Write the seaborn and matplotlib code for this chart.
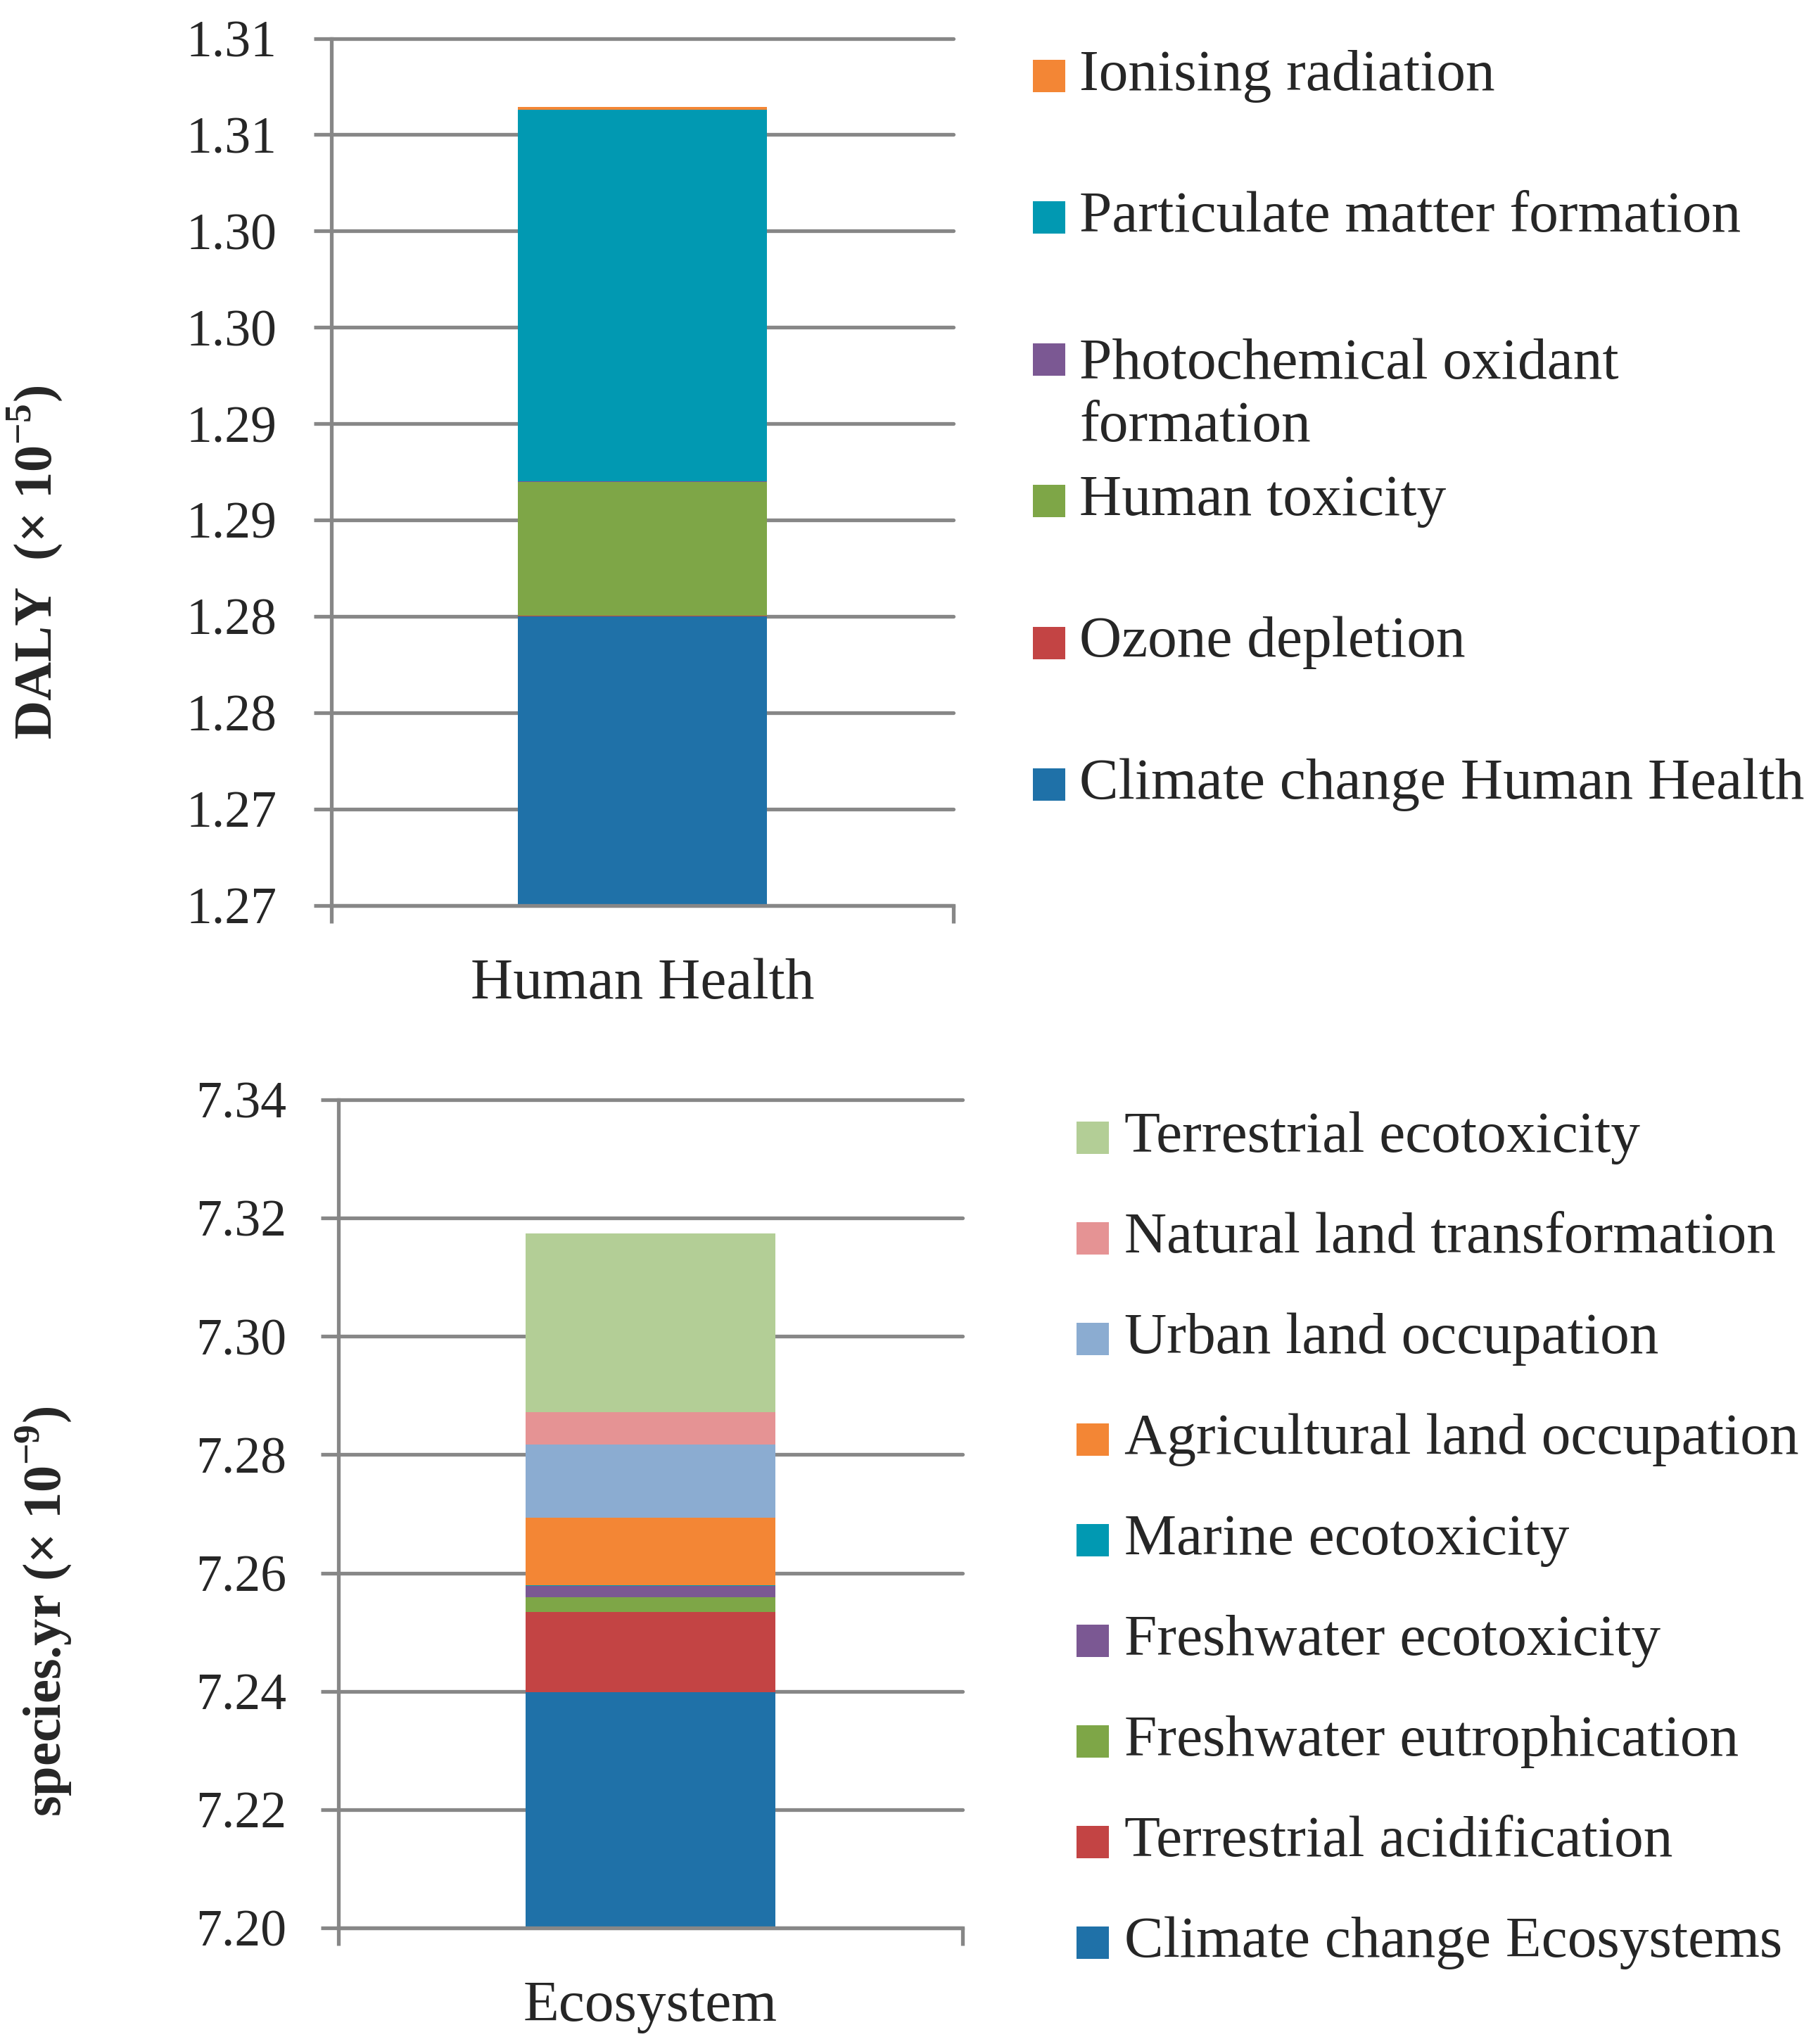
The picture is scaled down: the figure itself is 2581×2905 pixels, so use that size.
import numpy as np
import matplotlib
matplotlib.use("Agg")
import matplotlib.pyplot as plt
from matplotlib.patches import Rectangle
import seaborn as sns

# ------------------------------------------------------------------
# Data
# ------------------------------------------------------------------
# Human Health, DALY (x 1e-5), stacked from bottom to top
hh_category = "Human Health"
hh_series = ["Climate change Human Health", "Ozone depletion", "Human toxicity",
             "Photochemical oxidant formation", "Particulate matter formation",
             "Ionising radiation"]
hh_values = [1.2800, 0.00003, 0.00695, 0.00002, 0.0193, 0.00013]
hh_colors = ["#1F71A8", "#C34444", "#7EA647", "#7B5893", "#0199B2", "#F38635"]
hh_ticks = [1.265, 1.270, 1.275, 1.280, 1.285, 1.290, 1.295, 1.300, 1.305, 1.310]
hh_ticklabels = ["1.27", "1.27", "1.28", "1.28", "1.29", "1.29",
                 "1.30", "1.30", "1.31", "1.31"]

# Ecosystem, species.yr (x 1e-9), stacked from bottom to top
eco_category = "Ecosystem"
eco_series = ["Climate change Ecosystems", "Terrestrial acidification",
              "Freshwater eutrophication", "Freshwater ecotoxicity",
              "Marine ecotoxicity", "Agricultural land occupation",
              "Urban land occupation", "Natural land transformation",
              "Terrestrial ecotoxicity"]
eco_values = [7.2399, 0.0135, 0.00245, 0.0020, 0.00005, 0.0115, 0.01226, 0.00554, 0.03015]
eco_colors = ["#1F71A8", "#C34444", "#7EA647", "#7B5893", "#0199B2",
              "#F38635", "#8BACD1", "#E59394", "#B3CE96"]
eco_ticks = [7.20, 7.22, 7.24, 7.26, 7.28, 7.30, 7.32, 7.34]
eco_ticklabels = ["7.20", "7.22", "7.24", "7.26", "7.28", "7.30", "7.32", "7.34"]

# ------------------------------------------------------------------
# Style
# ------------------------------------------------------------------
W, H = 2581, 2905
DPI = 100
GRID = "#878787"
LW = 3.8

sns.set_style("white")
plt.rcParams["font.family"] = ["Liberation Serif", "DejaVu Serif"]
plt.rcParams["mathtext.fontset"] = "custom"
plt.rcParams["mathtext.rm"] = "Liberation Serif"
plt.rcParams["mathtext.bf"] = "Liberation Serif:bold"


def fx(px):
    return px / W


def fy(py):
    return 1 - py / H


def stacked_bar(ax, category, values, colors):
    # cumulative totals drawn from the tallest down, so each layer shows its own slice
    totals = np.cumsum(values)
    for total, color in zip(totals[::-1], colors[::-1]):
        sns.barplot(x=[category], y=[total], color=color, width=0.4,
                    saturation=1, linewidth=0, errorbar=None, ax=ax)


def style_axes(ax, ticks, ticklabels, ypad):
    ax.set_xlim(-0.5, 0.5)
    ax.set_ylim(ticks[0], ticks[-1])
    ax.set_yticks(ticks)
    ax.set_yticklabels(ticklabels)
    ax.yaxis.grid(True, color=GRID, linewidth=LW)
    ax.xaxis.grid(False)
    ax.set_axisbelow(True)
    for s in ["top", "right"]:
        ax.spines[s].set_visible(False)
    for s in ["left", "bottom"]:
        ax.spines[s].set_color(GRID)
        ax.spines[s].set_linewidth(LW)
    ax.tick_params(axis="y", length=18, width=LW, color=GRID, pad=ypad,
                   labelsize=53, direction="out", left=True)
    ax.set_xticks([-0.5, 0.5], minor=True)
    ax.tick_params(axis="x", which="minor", length=18, width=LW, color=GRID,
                   direction="out", bottom=True)
    ax.tick_params(axis="x", which="major", length=0, pad=54, labelsize=60)
    ax.set_xlabel("")
    ax.set_ylabel("")
    for gl in ax.get_ygridlines():
        gl.set_clip_on(False)


def draw_legend(fig, labels, colors, x_marker, x_text, y_first, pitch, size=46):
    for i, (lab, col) in enumerate(zip(labels, colors)):
        yc = y_first + i * pitch
        fig.add_artist(Rectangle((fx(x_marker), fy(yc + size / 2)), size / W, size / H,
                                 transform=fig.transFigure, facecolor=col,
                                 edgecolor="none"))
        n_lines = lab.count("\n") + 1
        fig.text(fx(x_text), fy(yc + (n_lines - 1) * 52), lab, fontsize=60,
                 ha="left", va="center", linespacing=1.25)


fig = plt.figure(figsize=(W / DPI, H / DPI), dpi=DPI)

# Top panel: Human Health
ax1 = fig.add_axes([fx(471), fy(1287), (1355 - 471) / W, (1287 - 54.5) / H])
stacked_bar(ax1, hh_category, hh_values, hh_colors)
style_axes(ax1, hh_ticks, hh_ticklabels, ypad=38)

# Bottom panel: Ecosystem
ax2 = fig.add_axes([fx(481), fy(2740), (1368 - 481) / W, (2740 - 1563) / H])
stacked_bar(ax2, eco_category, eco_values, eco_colors)
style_axes(ax2, eco_ticks, eco_ticklabels, ypad=35)

# Axis titles
fig.text(fx(49), fy(799), r"DALY  (× 10$^{\mathbf{-5}}$)", rotation=90,
         fontsize=55, fontweight="bold", ha="center", va="center")
fig.text(fx(62), fy(2290), r"species.yr (× 10$^{\mathbf{-9}}$)", rotation=90,
         fontsize=55, fontweight="bold", ha="center", va="center")

# Legends (listed top-down, i.e. reverse of stacking order)
hh_legend = [s.replace("oxidant formation", "oxidant\nformation") for s in hh_series]
draw_legend(fig, hh_legend[::-1], hh_colors[::-1], 1468, 1534, 108, 201.4)
draw_legend(fig, eco_series[::-1], eco_colors[::-1], 1530, 1598, 1617, 143)

fig.savefig("out.png", dpi=DPI)
plt.close(fig)
